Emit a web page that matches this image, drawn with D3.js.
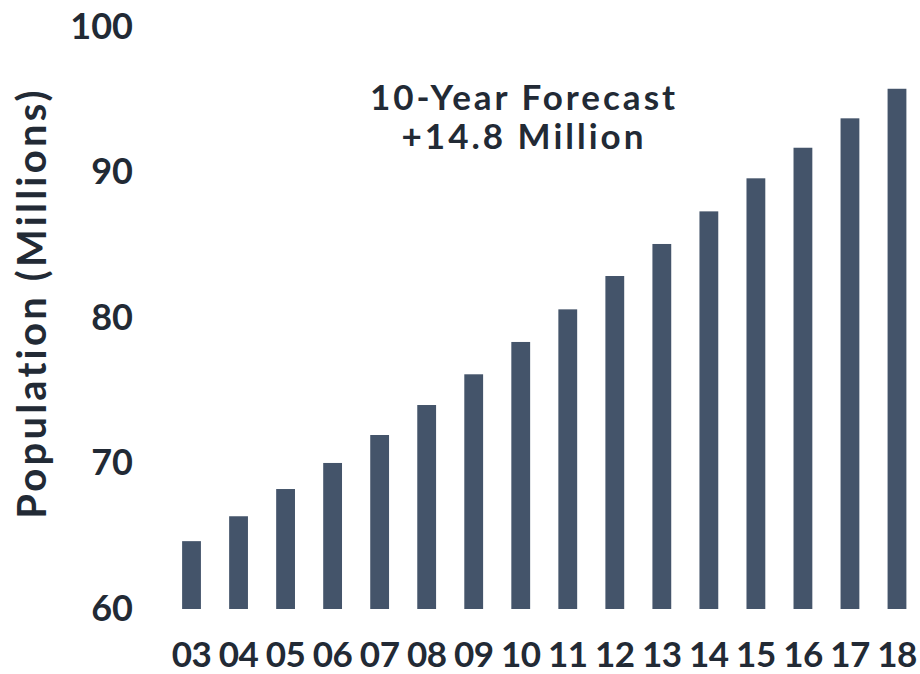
<!DOCTYPE html>
<html><head><meta charset="utf-8">
<script src="https://cdn.jsdelivr.net/npm/d3@7"></script>
<style>body{margin:0;background:#fff;} text{font-family:Lato, "Open Sans", sans-serif;font-weight:700;fill:#222a35;}</style>
</head><body>
<svg id="c" width="920" height="674"></svg>
<script>
const years = ["03","04","05","06","07","08","09","10","11","12","13","14","15","16","17","18"];
const population = [64.66,66.37,68.24,70.03,71.95,74.01,76.12,78.34,80.58,82.87,85.07,87.31,89.58,91.68,93.70,95.73];
const yTicks = [60,70,80,90,100];
const yTitle = "Population (Millions)";
const noteLines = ["10-Year Forecast","+14.8 Million"];

const svg = d3.select("#c");
const x = d3.scaleBand().domain(years).range([168, 920.5]).paddingInner(0.6).paddingOuter(0.3);
const y = d3.scaleLinear().domain([60,100]).range([609, 26.6]);

svg.append("g").selectAll("rect").data(population).join("rect")
  .attr("x",(d,i)=>x(years[i])).attr("width",x.bandwidth())
  .attr("y",d=>y(d)).attr("height",d=>y(60)-y(d))
  .attr("fill","#44546a");

const ya = svg.append("g").attr("transform","translate(133,0)")
  .call(d3.axisLeft(y).tickValues(yTicks).tickSize(0).tickPadding(0));
ya.select(".domain").remove();
ya.selectAll("text").attr("font-size",36).attr("font-family","Lato").attr("font-weight",700).attr("fill","#222a35");

const xa = svg.append("g").attr("transform","translate(0,667)")
  .call(d3.axisBottom(x).tickSize(0).tickPadding(0));
xa.select(".domain").remove();
xa.selectAll("text").attr("font-size",35).attr("dy",0).attr("letter-spacing",-0.5).attr("font-family","Lato").attr("font-weight",700).attr("fill","#222a35");

svg.append("text").attr("transform","translate(46,303) rotate(-90)")
  .attr("text-anchor","middle").attr("font-size",40).attr("letter-spacing",3.2).text(yTitle);

svg.append("g").selectAll("text").data(noteLines).join("text")
  .attr("x",524).attr("y",(d,i)=>110+i*39).attr("text-anchor","middle")
  .attr("font-size",35).attr("letter-spacing",3).text(d=>d);
</script>
</body></html>
